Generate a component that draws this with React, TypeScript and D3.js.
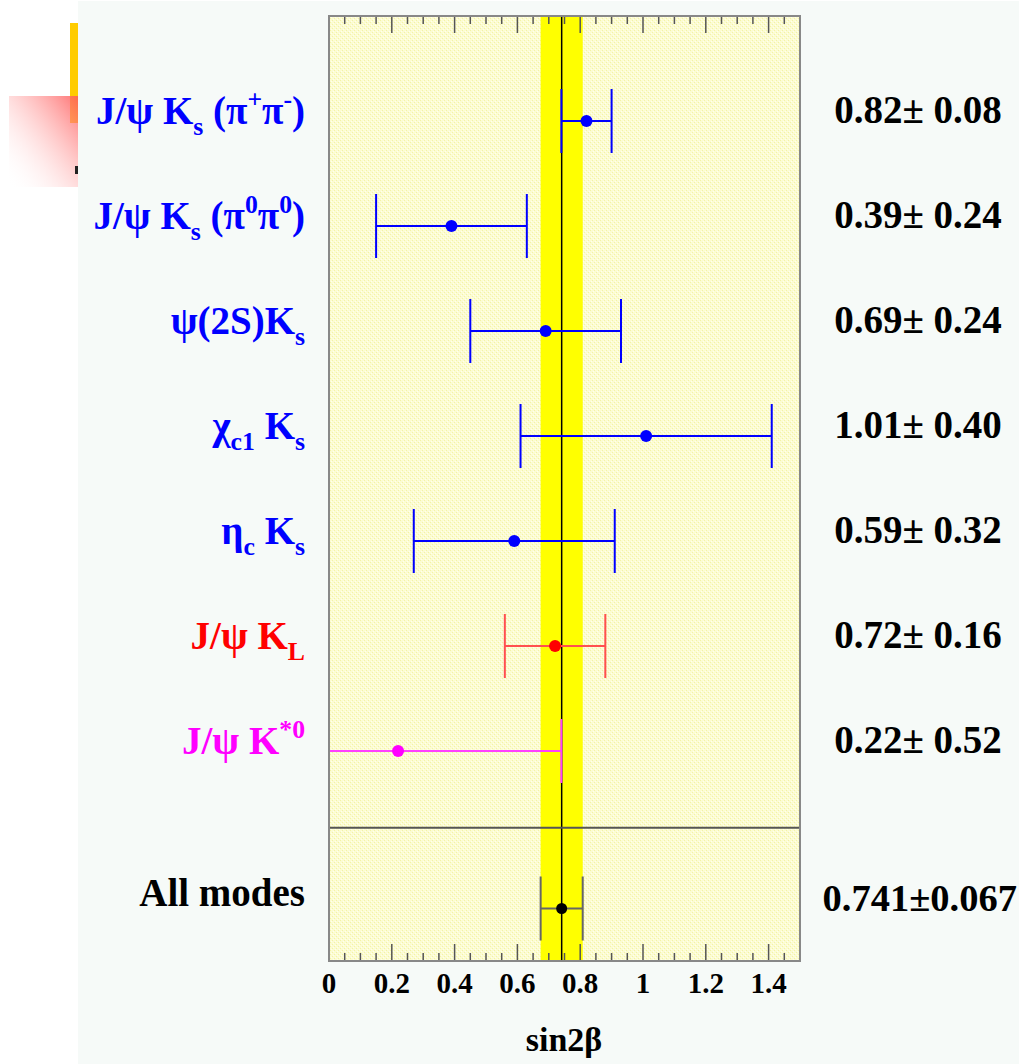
import React from "react";
import * as d3 from "d3";

const categories = [
  "J/ψ K_{s} (π^{+}π^{-})",
  "J/ψ K_{s} (π^{0}π^{0})",
  "ψ(2S)K_{s}",
  "χ_{c1} K_{s}",
  "η_{c} K_{s}",
  "J/ψ K_{L}",
  "J/ψ K^{*0}",
];
const values = [0.82, 0.39, 0.69, 1.01, 0.59, 0.72, 0.22];
const errors = [0.08, 0.24, 0.24, 0.4, 0.32, 0.16, 0.52];
const valueLabels = [
  "0.82± 0.08",
  "0.39± 0.24",
  "0.69± 0.24",
  "1.01± 0.40",
  "0.59± 0.32",
  "0.72± 0.16",
  "0.22± 0.52",
];
const seriesColors = ["#0000ff", "#0000ff", "#0000ff", "#0000ff", "#0000ff", "#ff0000", "#ff00ff"];
const lineColors = ["#0000ff", "#0000ff", "#0000ff", "#0000ff", "#0000ff", "#ff5050", "#ff40ff"];

const combinedLabel = "All modes";
const combinedValue = 0.741;
const combinedError = 0.067;
const combinedText = "0.741±0.067";

const xTickLabels = ["0", "0.2", "0.4", "0.6", "0.8", "1", "1.2", "1.4"];
const xTickValues = [0, 0.2, 0.4, 0.6, 0.8, 1.0, 1.2, 1.4];
const axisTitle = "sin2β";

type Seg = { t: string; k: "n" | "sub" | "sup" };
function parse(s: string): Seg[] {
  const out: Seg[] = [];
  const re = /([_^])\{([^}]*)\}/g;
  let last = 0;
  let m: RegExpExecArray | null;
  while ((m = re.exec(s))) {
    if (m.index > last) out.push({ t: s.slice(last, m.index), k: "n" });
    out.push({ t: m[2], k: m[1] === "_" ? "sub" : "sup" });
    last = re.lastIndex;
  }
  if (last < s.length) out.push({ t: s.slice(last), k: "n" });
  return out;
}

function RichLabel({ text, x, y, color, size }: { text: string; x: number; y: number; color: string; size: number }) {
  const segs = parse(text);
  let cur = 0;
  const nodes = segs.map((s, i) => {
    const target = s.k === "sub" ? 11 : s.k === "sup" ? -16 : 0;
    const dy = target - cur;
    cur = target;
    return (
      <tspan key={i} dy={dy} fontSize={s.k === "n" ? size : size * 0.66}>
        {s.t}
      </tspan>
    );
  });
  return (
    <text x={x} y={y} textAnchor="end" fill={color} fontFamily="'Liberation Serif', 'Times New Roman', serif" fontWeight="bold" fontSize={size}>
      {nodes}
    </text>
  );
}

export default function App() {
  const W = 1019;
  const H = 1064;
  const x = d3.scaleLinear().domain([0, 1.5]).range([329, 800]);
  const y = d3.scaleLinear().domain([-1, 8]).range([16, 961]);
  const minorTicks = d3.range(0, 1.5001, 0.05);
  const font = "'Liberation Serif', 'Times New Roman', serif";
  const capH = 32;
  const [x0, x1] = x.range();
  const [y0, y1] = y.range();

  return (
    <svg width={W} height={H} style={{ position: "absolute", left: 0, top: 0 }} xmlns="http://www.w3.org/2000/svg">
      <defs>
        <linearGradient id="pinkgrad" x1="1" y1="0" x2="0" y2="1">
          <stop offset="0" stopColor="#ff5a5a" stopOpacity="0.85" />
          <stop offset="1" stopColor="#ffffff" stopOpacity="0" />
        </linearGradient>
        <pattern id="dither" width="4" height="4" patternUnits="userSpaceOnUse">
          <rect width="4" height="4" fill="#fcfcd2" />
          <rect x="0" y="0" width="1" height="1" fill="#f3f3a6" />
          <rect x="2" y="2" width="1" height="1" fill="#f3f3a6" />
          <rect x="1" y="3" width="1" height="1" fill="#ffffee" />
          <rect x="3" y="1" width="1" height="1" fill="#ffffee" />
        </pattern>
        <clipPath id="plotclip">
          <rect x={x0} y={y0} width={x1 - x0} height={y1 - y0} />
        </clipPath>
      </defs>
      <rect x={0} y={0} width={W} height={H} fill="#ffffff" />
      {/* slide decorations */}
      <rect x={70} y={23} width={8} height={100} fill="#ffcc00" />
      <rect x={9} y={96} width={69} height={91} fill="url(#pinkgrad)" />
      <rect x={78} y={1} width={W - 78} height={H - 1} fill="#f6faf8" />
      <rect x={75} y={166} width={3} height={8} fill="#222" />

      {/* plot area */}
      <rect x={x0} y={y0} width={x1 - x0} height={y1 - y0} fill="url(#dither)" />
      <rect x={x(combinedValue - combinedError)} y={y0} width={x(combinedValue + combinedError) - x(combinedValue - combinedError)} height={y1 - y0} fill="#ffff00" />

      {/* ticks */}
      {minorTicks.map((t, i) => {
        const major = xTickValues.some((v) => Math.abs(v - t) < 1e-6);
        const len = major ? 17 : 8;
        return (
          <g key={i} stroke="#555" strokeWidth={1.5}>
            <line x1={x(t)} x2={x(t)} y1={y1} y2={y1 - len} />
            <line x1={x(t)} x2={x(t)} y1={y0} y2={y0 + len} />
          </g>
        );
      })}

      <line x1={x(combinedValue)} x2={x(combinedValue)} y1={y0} y2={y1} stroke="#000" strokeWidth={1.5} />
      <line x1={x0} x2={x1} y1={y(6.73)} y2={y(6.73)} stroke="#555" strokeWidth={2} />

      <g clipPath="url(#plotclip)">
        {values.map((v, i) => {
          const cy = y(i);
          const lo = x(v - errors[i]);
          const hi = x(v + errors[i]);
          return (
            <g key={i} stroke={lineColors[i]} strokeWidth={2}>
              <line x1={lo} x2={hi} y1={cy} y2={cy} />
              <line x1={lo} x2={lo} y1={cy - capH} y2={cy + capH} />
              <line x1={hi} x2={hi} y1={cy - capH} y2={cy + capH} />
              <circle cx={x(v)} cy={cy} r={6} fill={seriesColors[i]} stroke="none" />
            </g>
          );
        })}
        <g stroke="#666" strokeWidth={2}>
          <line x1={x(combinedValue - combinedError)} x2={x(combinedValue + combinedError)} y1={y(7.5)} y2={y(7.5)} />
          <line x1={x(combinedValue - combinedError)} x2={x(combinedValue - combinedError)} y1={y(7.5) - capH} y2={y(7.5) + capH} />
          <line x1={x(combinedValue + combinedError)} x2={x(combinedValue + combinedError)} y1={y(7.5) - capH} y2={y(7.5) + capH} />
          <circle cx={x(combinedValue)} cy={y(7.5)} r={5.5} fill="#000" stroke="none" />
        </g>
      </g>

      <rect x={x0} y={y0} width={x1 - x0} height={y1 - y0} fill="none" stroke="#888" strokeWidth={2} />

      {/* labels */}
      {categories.map((c, i) => (
        <RichLabel key={i} text={c} x={305} y={y(i) + 3} color={seriesColors[i]} size={39} />
      ))}
      <text x={305} y={y(7.5) - 3} textAnchor="end" fontFamily={font} fontWeight="bold" fontSize={39} fill="#000">
        {combinedLabel}
      </text>

      {valueLabels.map((t, i) => (
        <text key={i} x={918} y={y(i) + 2} textAnchor="middle" fontFamily={font} fontWeight="bold" fontSize={39} fill="#000">
          {t}
        </text>
      ))}
      <text x={1017} y={y(7.5) + 2} textAnchor="end" fontFamily={font} fontWeight="bold" fontSize={38.5} fill="#000">
        {combinedText}
      </text>

      {xTickValues.map((v, i) => (
        <text key={i} x={x(v)} y={993} textAnchor="middle" fontFamily={font} fontWeight="bold" fontSize={29} fill="#000">
          {xTickLabels[i]}
        </text>
      ))}
      <text x={564} y={1051} textAnchor="middle" fontFamily={font} fontWeight="bold" fontSize={34} fill="#000">
        {axisTitle}
      </text>
    </svg>
  );
}
